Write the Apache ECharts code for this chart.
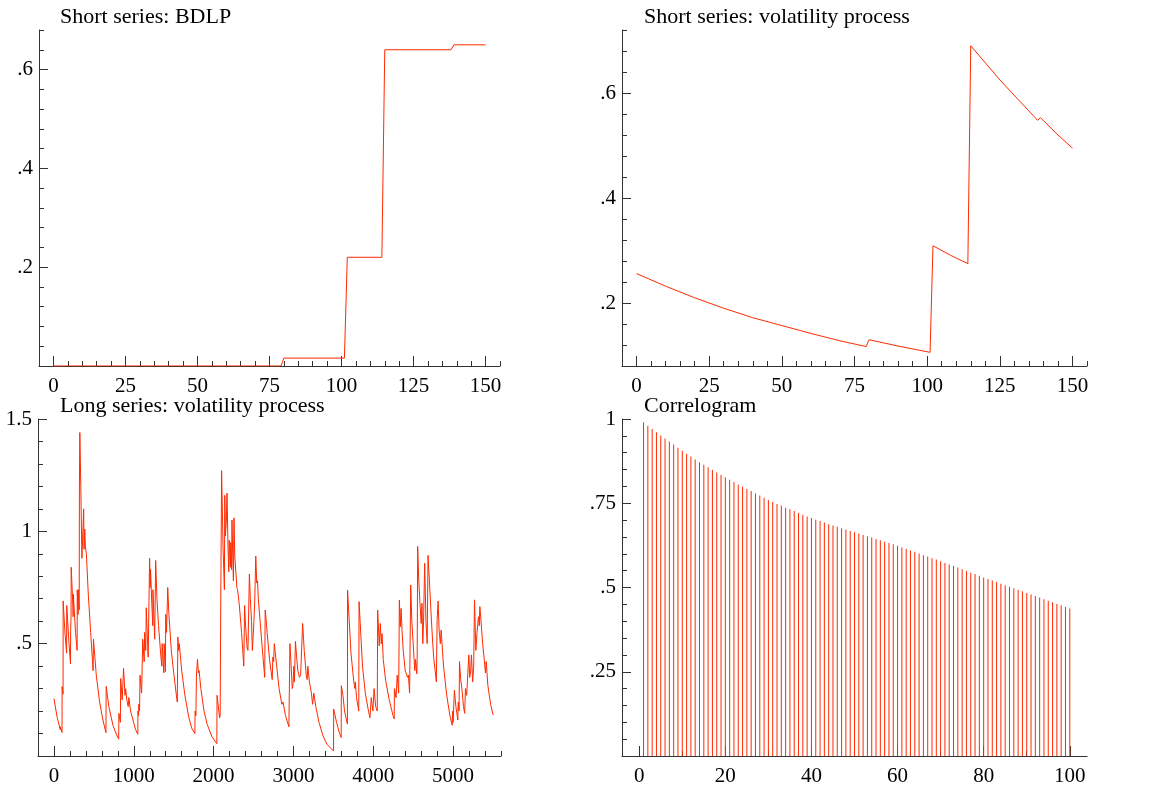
<!DOCTYPE html>
<html>
<head>
<meta charset="utf-8">
<script src="https://cdn.jsdelivr.net/npm/echarts@6.0.0/dist/echarts.min.js"></script>
<style>
html, body { margin: 0; padding: 0; background: #fff; }
#chart { width: 1176px; height: 796px; }
</style>
</head>
<body>
<div id="chart"></div>
<script>
//////////////////////////////////////////////////////////////////////////////
// data
var titles = ['Short series: BDLP', 'Short series: volatility process',
              'Long series: volatility process', 'Correlogram'];

// short series, BDLP (step function, break points)
var bdlpX = [0, 79, 80, 101, 102, 114, 115, 138, 139, 150];
var bdlpY = [0, 0, 0.016, 0.016, 0.22, 0.22, 0.64, 0.64, 0.65, 0.65];

// short series, volatility process
var volX = [0, 10, 20, 30, 40, 50, 60, 70, 79, 80, 90, 101, 102, 108, 114, 115, 125, 138, 139, 145, 150];
var volY = [0.256, 0.232, 0.21, 0.19, 0.172, 0.157, 0.142, 0.128, 0.117, 0.13, 0.118, 0.106,
            0.309, 0.291, 0.275, 0.69, 0.625, 0.548, 0.553, 0.52, 0.495];

// long series, volatility process (turning points)
var longX = [0, 40, 79, 80, 101, 102, 114, 115, 138, 139, 158, 160, 185, 207, 209, 214, 216, 238, 240, 243,
             262, 270, 290, 292, 302, 306, 316, 319, 324, 336, 350, 354, 372, 377, 386, 394, 406, 430, 460, 490,
             495, 530, 570, 610, 651, 654, 690, 740, 790, 811, 813, 832, 836, 855, 872, 890, 898, 912, 930, 938,
             960, 990, 1020, 1050, 1052, 1060, 1062, 1072, 1078, 1098, 1112, 1130, 1136, 1150, 1156, 1180, 1198, 1206, 1210, 1225,
             1238, 1240, 1262, 1274, 1290, 1310, 1340, 1352, 1355, 1376, 1380, 1396, 1400, 1410, 1420, 1425, 1440, 1470, 1500, 1530,
             1545, 1552, 1562, 1570, 1600, 1640, 1690, 1730, 1765, 1768, 1778, 1785, 1798, 1810, 1818, 1840, 1880, 1920, 1980, 2040,
             2043, 2075, 2082, 2088, 2100, 2112, 2118, 2135, 2140, 2148, 2160, 2168, 2180, 2190, 2196, 2210, 2215, 2225, 2230, 2240,
             2248, 2255, 2265, 2280, 2291, 2300, 2320, 2350, 2378, 2388, 2400, 2420, 2430, 2448, 2460, 2475, 2485, 2490, 2505, 2515,
             2528, 2540, 2550, 2560, 2600, 2640, 2646, 2660, 2670, 2700, 2734, 2742, 2752, 2760, 2770, 2790, 2820, 2855, 2870, 2900,
             2943, 2956, 2970, 2985, 2995, 3005, 3012, 3025, 3040, 3055, 3075, 3090, 3100, 3115, 3135, 3160, 3172, 3180, 3200, 3225,
             3240, 3255, 3280, 3320, 3370, 3420, 3502, 3504, 3540, 3574, 3598, 3600, 3620, 3640, 3676, 3678, 3720, 3756, 3770, 3775,
             3790, 3818, 3822, 3865, 3900, 3940, 3958, 3975, 3995, 4010, 4030, 4050, 4055, 4075, 4088, 4100, 4110, 4125, 4155, 4200,
             4247, 4262, 4265, 4285, 4300, 4318, 4327, 4338, 4349, 4360, 4375, 4400, 4430, 4440, 4455, 4469, 4483, 4500, 4520, 4530,
             4545, 4550, 4556, 4570, 4585, 4600, 4610, 4620, 4630, 4644, 4660, 4675, 4686, 4700, 4720, 4740, 4756, 4775, 4790, 4800,
             4812, 4825, 4840, 4850, 4880, 4920, 4960, 4988, 4995, 5000, 5016, 5035, 5059, 5064, 5075, 5080, 5095, 5110, 5130, 5145,
             5155, 5170, 5185, 5197, 5208, 5220, 5230, 5245, 5258, 5268, 5285, 5300, 5318, 5328, 5335, 5350, 5370, 5390, 5405, 5415,
             5435, 5470, 5502];
var longY = [0.256, 0.172, 0.117, 0.13, 0.105, 0.309, 0.275, 0.69, 0.548, 0.553, 0.458, 0.67, 0.52, 0.41, 0.56, 0.62, 0.84, 0.66, 0.62, 0.72,
             0.6, 0.55, 0.47, 0.74, 0.63, 0.74, 0.65, 1.22, 1.44, 1.2, 0.88, 0.92, 1.1, 0.92, 1.01, 0.93, 0.9, 0.72, 0.55, 0.38,
             0.52, 0.36, 0.245, 0.165, 0.104, 0.31, 0.215, 0.135, 0.09, 0.075, 0.19, 0.15, 0.345, 0.25, 0.39, 0.27, 0.3, 0.25, 0.22, 0.26,
             0.2, 0.16, 0.12, 0.097, 0.2, 0.18, 0.23, 0.2, 0.36, 0.28, 0.52, 0.42, 0.55, 0.47, 0.66, 0.44, 0.88, 0.75, 0.83, 0.68,
             0.58, 0.74, 0.52, 0.87, 0.7, 0.58, 0.44, 0.4, 0.5, 0.37, 0.5, 0.375, 0.63, 0.55, 0.68, 0.75, 0.63, 0.47, 0.37, 0.28,
             0.24, 0.53, 0.47, 0.5, 0.38, 0.27, 0.17, 0.12, 0.1, 0.2, 0.18, 0.36, 0.43, 0.37, 0.38, 0.3, 0.2, 0.14, 0.085, 0.055,
             0.27, 0.17, 0.18, 0.6, 1.27, 1.05, 0.93, 0.74, 1.16, 0.98, 1.05, 1.17, 0.93, 0.82, 0.96, 0.84, 0.95, 0.83, 1.05, 0.89,
             0.78, 1.06, 0.89, 0.81, 0.75, 0.74, 0.68, 0.55, 0.4, 0.67, 0.58, 0.48, 0.47, 0.81, 0.7, 0.6, 0.47, 0.5, 0.6, 0.69,
             0.89, 0.77, 0.78, 0.7, 0.52, 0.35, 0.65, 0.6, 0.55, 0.43, 0.34, 0.44, 0.42, 0.5, 0.5, 0.4, 0.3, 0.23, 0.24, 0.18,
             0.13, 0.5, 0.41, 0.3, 0.32, 0.4, 0.33, 0.51, 0.44, 0.38, 0.35, 0.36, 0.36, 0.59, 0.47, 0.36, 0.34, 0.4, 0.33, 0.28,
             0.23, 0.28, 0.22, 0.15, 0.09, 0.052, 0.022, 0.209, 0.15, 0.104, 0.082, 0.313, 0.27, 0.2, 0.142, 0.739, 0.46, 0.33, 0.3, 0.33,
             0.26, 0.2, 0.687, 0.4, 0.28, 0.2, 0.17, 0.26, 0.2, 0.3, 0.22, 0.2, 0.65, 0.49, 0.59, 0.5, 0.545, 0.43, 0.336, 0.25,
             0.18, 0.165, 0.3, 0.26, 0.36, 0.28, 0.694, 0.575, 0.657, 0.56, 0.47, 0.38, 0.35, 0.36, 0.28, 0.761, 0.6, 0.5, 0.38, 0.43,
             0.366, 0.43, 0.933, 0.78, 0.68, 0.59, 0.68, 0.5, 0.6, 0.858, 0.6, 0.5, 0.893, 0.8, 0.66, 0.53, 0.44, 0.38, 0.33, 0.606,
             0.69, 0.56, 0.5, 0.56, 0.4, 0.27, 0.18, 0.137, 0.2, 0.15, 0.293, 0.22, 0.16, 0.24, 0.2, 0.42, 0.34, 0.3, 0.22, 0.19,
             0.3, 0.27, 0.37, 0.45, 0.35, 0.38, 0.45, 0.33, 0.4, 0.695, 0.47, 0.55, 0.62, 0.58, 0.665, 0.6, 0.5, 0.43, 0.37, 0.42,
             0.315, 0.23, 0.182];

// correlogram, lags 1..100
var acfLag = [];
for (var k = 1; k <= 100; k++) acfLag.push(k);
var acfY = [0.990, 0.980, 0.970, 0.961, 0.951, 0.942, 0.933, 0.924, 0.915, 0.906,
            0.897, 0.889, 0.880, 0.872, 0.864, 0.857, 0.849, 0.841, 0.834, 0.827,
            0.820, 0.813, 0.806, 0.799, 0.792, 0.786, 0.779, 0.773, 0.766, 0.760,
            0.754, 0.748, 0.743, 0.737, 0.732, 0.727, 0.721, 0.716, 0.711, 0.706,
            0.701, 0.697, 0.693, 0.688, 0.684, 0.680, 0.676, 0.672, 0.668, 0.664,
            0.660, 0.656, 0.652, 0.648, 0.644, 0.640, 0.636, 0.632, 0.628, 0.624,
            0.619, 0.615, 0.610, 0.606, 0.601, 0.596, 0.592, 0.587, 0.583, 0.578,
            0.573, 0.568, 0.564, 0.559, 0.554, 0.549, 0.544, 0.540, 0.535, 0.530,
            0.525, 0.521, 0.516, 0.511, 0.507, 0.502, 0.498, 0.493, 0.489, 0.484,
            0.479, 0.475, 0.470, 0.465, 0.461, 0.456, 0.451, 0.447, 0.442, 0.4375];

// tick values
var shortXMajor = [0, 25, 50, 75, 100, 125, 150];
var longXMajor = [0, 1000, 2000, 3000, 4000, 5000];
var acfXMajor = [0, 20, 40, 60, 80, 100];
var bdlpYMajor = [0.2, 0.4, 0.6];
var volYMajor = [0.2, 0.4, 0.6];
var longYMajor = [0.5, 1, 1.5];
var acfYMajor = [0.25, 0.5, 0.75, 1];

//////////////////////////////////////////////////////////////////////////////
var RED = '#ff2a00';
var AXIS = '#333';
var FONT = 'Liberation Serif';

function steps(from, to, step){
    var a = [];
    for (var i = 0; from + i * step <= to + 1e-9; i++)
        a.push(+(from + i * step).toFixed(4));
    return a;
}
function fmt(v){
    return String(+v.toFixed(4)).replace(/^0\./, '.');
}
function pairs(xs, ys){
    return xs.map(function(x, i){ return [x, ys[i]]; });
}

var grids = [
    {left: 39,  top: 30,  width: 461, height: 336},
    {left: 622, top: 30,  width: 465, height: 336},
    {left: 38,  top: 419, width: 463, height: 337},
    {left: 622, top: 419, width: 465, height: 337}
];

// [xmin, xmax, xMajor, xMinorStep, ymin, ymax, yMajor, yMinorStep]
var axisDefs = [
    [-5, 155, shortXMajor, 5, 0, 0.68, bdlpYMajor, 0.04],
    [-5, 155, shortXMajor, 5, 0.08, 0.72, volYMajor, 0.04],
    [-200, 5600, longXMajor, 200, 0, 1.5, longYMajor, 0.1],
    [-4, 104, acfXMajor, 10, 0, 1, acfYMajor, 0.05]
];

var xAxes = [], yAxes = [];
axisDefs.forEach(function(d, g){
    var xMinor = steps(Math.ceil(d[0] / d[3]) * d[3], d[1], d[3]);
    var yMinor = steps(d[4], d[5], d[7]);
    xAxes.push({
        type: 'value', gridIndex: g, min: d[0], max: d[1], position: 'bottom',
        axisLine: {show: true, onZero: false, lineStyle: {color: AXIS, width: 1}},
        axisTick: {show: true, inside: true, length: 10, customValues: d[2], lineStyle: {color: AXIS}},
        axisLabel: {show: true, customValues: d[2], formatter: fmt, margin: 10,
                    fontFamily: FONT, fontSize: 21, color: '#000'},
        splitLine: {show: false}
    });
    xAxes.push({
        type: 'value', gridIndex: g, min: d[0], max: d[1], position: 'bottom',
        axisLine: {show: false, onZero: false},
        axisTick: {show: true, inside: true, length: 5, customValues: xMinor, lineStyle: {color: AXIS}},
        axisLabel: {show: false},
        splitLine: {show: false}
    });
    yAxes.push({
        type: 'value', gridIndex: g, min: d[4], max: d[5], position: 'left',
        axisLine: {show: true, onZero: false, lineStyle: {color: AXIS, width: 1}},
        axisTick: {show: true, inside: true, length: 9, customValues: d[6], lineStyle: {color: AXIS}},
        axisLabel: {show: true, customValues: d[6], formatter: fmt, margin: 6,
                    fontFamily: FONT, fontSize: 21, color: '#000'},
        splitLine: {show: false}
    });
    yAxes.push({
        type: 'value', gridIndex: g, min: d[4], max: d[5], position: 'left',
        axisLine: {show: false, onZero: false},
        axisTick: {show: true, inside: true, length: 5, customValues: yMinor, lineStyle: {color: AXIS}},
        axisLabel: {show: false},
        splitLine: {show: false}
    });
});

var titlePos = [[60, 6], [644, 6], [60, 395], [644, 395]];

var chart = echarts.init(document.getElementById('chart'));
chart.setOption({
    backgroundColor: '#fff',
    animation: false,
    title: titles.map(function(t, i){
        return {text: t, left: titlePos[i][0], top: titlePos[i][1], padding: 0,
                textStyle: {fontFamily: FONT, fontSize: 22, fontWeight: 'normal', color: '#000'}};
    }),
    grid: grids,
    xAxis: xAxes,
    yAxis: yAxes,
    series: [
        {type: 'line', xAxisIndex: 0, yAxisIndex: 0, data: pairs(bdlpX, bdlpY), showSymbol: false,
         lineStyle: {color: RED, width: 1}, itemStyle: {color: RED}},
        {type: 'line', xAxisIndex: 2, yAxisIndex: 2, data: pairs(volX, volY), showSymbol: false,
         lineStyle: {color: RED, width: 1}, itemStyle: {color: RED}},
        {type: 'line', xAxisIndex: 4, yAxisIndex: 4, data: pairs(longX, longY), showSymbol: false,
         lineStyle: {color: RED, width: 1}, itemStyle: {color: RED}},
        {type: 'bar', xAxisIndex: 6, yAxisIndex: 6, data: pairs(acfLag, acfY), barWidth: 1,
         itemStyle: {color: RED}}
    ]
});
</script>
</body>
</html>
